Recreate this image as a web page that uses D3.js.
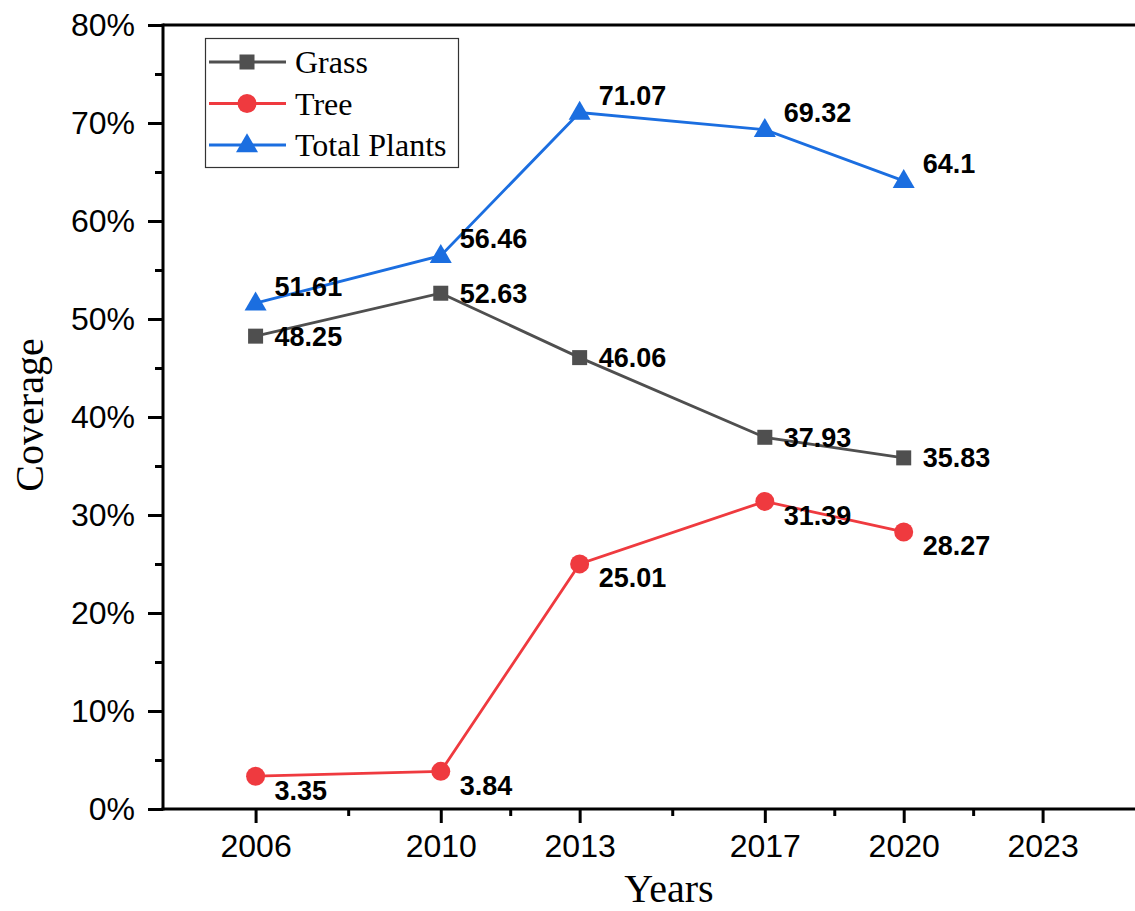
<!DOCTYPE html>
<html>
<head>
<meta charset="utf-8">
<script src="https://cdn.jsdelivr.net/npm/d3@7"></script>
<style>
  html, body { margin: 0; padding: 0; background: #fff; }
  svg { display: block; }
</style>
</head>
<body>
<svg id="chart" width="1135" height="911"></svg>
<script>
const years = [2006, 2010, 2013, 2017, 2020];
const grass = [48.25, 52.63, 46.06, 37.93, 35.83];
const tree = [3.35, 3.84, 25.01, 31.39, 28.27];
const totalPlants = [51.61, 56.46, 71.07, 69.32, 64.1];
const xTickValues = [2006, 2010, 2013, 2017, 2020, 2023];
const xMinorTicks = [2008, 2011.5, 2015, 2018.5, 2021.5];
const yTickValues = [0, 10, 20, 30, 40, 50, 60, 70, 80];
const yMinorTicks = [5, 15, 25, 35, 45, 55, 65, 75];
const seriesNames = ["Grass", "Tree", "Total Plants"];

const svg = d3.select("#chart");
const L = 163, R = 1134, T = 25, B = 809;

const x = d3.scaleLinear().domain([2004, 2025]).range([L, L + (1044 - 257) / 17 * 21]);
const y = d3.scaleLinear().domain([0, 80]).range([B, T]);

const series = [
  { name: seriesNames[0], values: grass, color: "#4f4f4f", marker: "square", dy: 0 },
  { name: seriesNames[1], values: tree, color: "#ef3a3f", marker: "circle", dy: 14 },
  { name: seriesNames[2], values: totalPlants, color: "#1b6ee0", marker: "triangle", dy: -17 }
];

// frame
svg.append("line").attr("x1", L).attr("x2", R + 2).attr("y1", T).attr("y2", T)
  .attr("stroke", "#000").attr("stroke-width", 3);

const axisFont = "'Liberation Sans', Arial, sans-serif";
const serif = "'Liberation Serif', 'Times New Roman', serif";

// x axis
const xAxis = svg.append("g").attr("transform", `translate(0,${B})`)
  .call(d3.axisBottom(x).tickValues(xTickValues).tickFormat(d3.format("d")).tickSize(14).tickPadding(11));
xAxis.select(".domain").remove();
xAxis.selectAll(".tick line").attr("stroke-width", 3);
xAxis.selectAll("text").attr("font-family", axisFont).attr("font-size", 32).attr("fill", "#000");
const xMinor = svg.append("g").attr("transform", `translate(0,${B})`)
  .call(d3.axisBottom(x).tickValues(xMinorTicks).tickSize(7).tickFormat(""));
xMinor.select(".domain").remove();
xMinor.selectAll(".tick line").attr("stroke-width", 3);
svg.append("line").attr("x1", L - 1.5).attr("x2", R + 2).attr("y1", B).attr("y2", B)
  .attr("stroke", "#000").attr("stroke-width", 3);

// y axis
const yAxis = svg.append("g").attr("transform", `translate(${L},0)`)
  .call(d3.axisLeft(y).tickValues(yTickValues).tickFormat(d => d + "%").tickSize(15).tickPadding(13));
yAxis.select(".domain").remove();
yAxis.selectAll(".tick line").attr("stroke-width", 3);
yAxis.selectAll("text").attr("font-family", axisFont).attr("font-size", 32).attr("fill", "#000");
const yMinor = svg.append("g").attr("transform", `translate(${L},0)`)
  .call(d3.axisLeft(y).tickValues(yMinorTicks).tickSize(8).tickFormat(""));
yMinor.select(".domain").remove();
yMinor.selectAll(".tick line").attr("stroke-width", 3);
svg.append("line").attr("x1", L).attr("x2", L).attr("y1", T - 1.5).attr("y2", B + 1.5)
  .attr("stroke", "#000").attr("stroke-width", 3);

// axis titles
svg.append("text").attr("x", 669).attr("y", 902).attr("text-anchor", "middle")
  .attr("font-family", serif).attr("font-size", 40).attr("fill", "#000").text("Years");
svg.append("text").attr("transform", "translate(43,415) rotate(-90)").attr("text-anchor", "middle")
  .attr("font-family", serif).attr("font-size", 40).attr("fill", "#000").text("Coverage");

function drawMarker(g, type, cx, cy, color) {
  if (type === "square") {
    g.append("rect").attr("x", cx - 7.5).attr("y", cy - 7.5).attr("width", 15).attr("height", 15).attr("fill", color);
  } else if (type === "circle") {
    g.append("circle").attr("cx", cx).attr("cy", cy).attr("r", 9.5).attr("fill", color);
  } else {
    const h = 19, w = 22;
    g.append("path").attr("d", `M${cx},${cy - h * 0.62}L${cx + w / 2},${cy + h * 0.38}L${cx - w / 2},${cy + h * 0.38}Z`).attr("fill", color);
  }
}

const line = d3.line().x(d => x(d[0])).y(d => y(d[1]));
series.forEach(s => {
  const pts = years.map((yr, i) => [yr, s.values[i]]);
  const g = svg.append("g");
  g.append("path").datum(pts).attr("d", line).attr("fill", "none")
    .attr("stroke", s.color).attr("stroke-width", 2.8);
  pts.forEach(p => drawMarker(g, s.marker, x(p[0]), y(p[1]), s.color));
  pts.forEach(p => {
    g.append("text").attr("x", x(p[0]) + 19).attr("y", y(p[1]) + s.dy + 9.5)
      .attr("font-family", axisFont).attr("font-weight", "bold").attr("font-size", 27)
      .attr("fill", "#000").text(d3.format("")(p[1]));
  });
});

// legend
const lg = svg.append("g");
lg.append("rect").attr("x", 205.5).attr("y", 38.5).attr("width", 253).attr("height", 129)
  .attr("fill", "#fff").attr("stroke", "#333").attr("stroke-width", 1.2);
const legendY = d3.scalePoint().domain(seriesNames).range([62, 145]);
series.forEach(s => {
  const ly = legendY(s.name);
  lg.append("line").attr("x1", 209).attr("x2", 286).attr("y1", ly).attr("y2", ly)
    .attr("stroke", s.color).attr("stroke-width", 2.8);
  drawMarker(lg, s.marker, 247, ly, s.color);
  lg.append("text").attr("x", 295).attr("y", ly + 11).attr("font-family", serif)
    .attr("font-size", 32).attr("fill", "#000").text(s.name);
});
</script>
</body>
</html>
